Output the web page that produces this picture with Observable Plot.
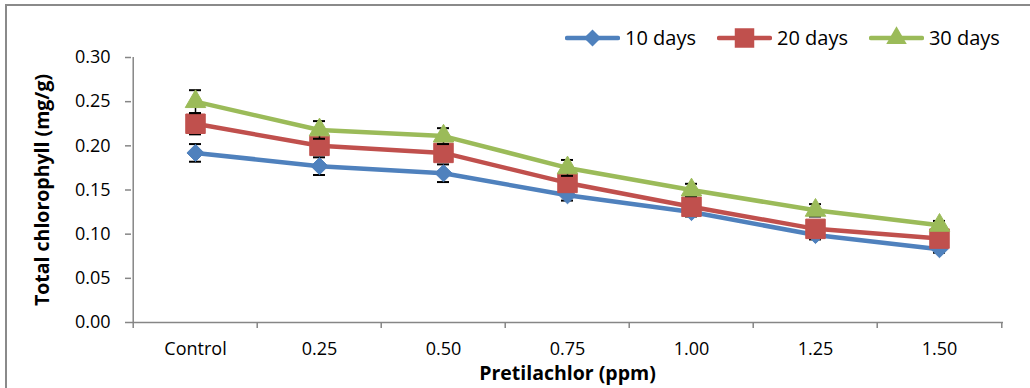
<!DOCTYPE html>
<html><head><meta charset="utf-8">
<script src="https://cdn.jsdelivr.net/npm/d3@7"></script>
<script src="https://cdn.jsdelivr.net/npm/@observablehq/plot@0.6"></script>
<style>
body{margin:0;background:#fff;}
#wrap{position:relative;width:1030px;height:388px;overflow:hidden;font-family:"Open Sans",sans-serif;background:#fff;}
#frame{position:absolute;left:5px;top:4px;width:1100px;height:500px;border:2px solid #8a8a8a;box-sizing:border-box;pointer-events:none;}
#chart{position:absolute;left:0;top:0;}
#legend{position:absolute;top:24px;left:565px;display:flex;align-items:center;font-size:20px;color:#000;line-height:28px;}
#legend .item{display:flex;align-items:center;margin-right:21px;}
#legend .item span{margin-left:5px;}
#chart svg{font-family:"Open Sans",sans-serif;overflow:visible;}
g[aria-label="y-axis tick"], g[aria-label="x-axis tick"]{stroke:#868686;stroke-width:1.5px;}
g[aria-label="y-axis tick label"] text, g[aria-label="x-axis tick label"] text{font-size:18px;fill:#000;}
g[aria-label="y-axis label"] text, g[aria-label="x-axis label"] text{font-size:19.5px;font-weight:bold;fill:#000;}
</style>
</head><body>
<div id="wrap"><div id="chart"></div><div id="legend"></div><div id="frame"></div></div>
<script>
// ---- data ----
const categories = ["Control", "0.25", "0.50", "0.75", "1.00", "1.25", "1.50"];
const seriesNames = ["10 days", "20 days", "30 days"];
const days10 = [0.192, 0.177, 0.169, 0.144, 0.125, 0.099, 0.083];
const days20 = [0.225, 0.200, 0.192, 0.158, 0.131, 0.106, 0.095];
const days30 = [0.250, 0.218, 0.211, 0.175, 0.150, 0.127, 0.110];
const err10 = [0.010, 0.010, 0.010, 0.006, 0.005, 0.005, 0.004];
const err20 = [0.012, 0.009, 0.009, 0.007, 0.006, 0.005, 0.005];
const err30 = [0.013, 0.010, 0.009, 0.009, 0.007, 0.007, 0.005];
const yTicks = [0, 0.05, 0.10, 0.15, 0.20, 0.25, 0.30];
const colors = ["#4F81BD", "#C0504D", "#9BBB59"];
const symbols = ["diamond2", "square", "triangle"];
const symbolR = [7.7, 11.0, 7.6];

const values = [days10, days20, days30];
const errors = [err10, err20, err30];

const W = 1030, H = 388, ML = 131, MR = 27, MT = 57, MB = 66;
const bw = (W - ML - MR) / categories.length;

const marks = [];
// axes lines
marks.push(Plot.ruleY([0], {stroke: "#868686", strokeWidth: 1.5}));
marks.push(Plot.ruleX([categories[0]], {dx: -bw / 2, y1: 0, y2: 0.30, stroke: "#868686", strokeWidth: 1.5}));
// category boundary ticks on x axis
marks.push(Plot.ruleX(categories, {x: d => d, dx: -bw / 2, y1: 0, y2: 0, insetBottom: -6, stroke: "#868686", strokeWidth: 1.5}));
marks.push(Plot.ruleX([categories[categories.length - 1]], {dx: bw / 2, y1: 0, y2: 0, insetBottom: -6, stroke: "#868686", strokeWidth: 1.5}));

seriesNames.forEach((s, k) => {
  const rows = categories.map((c, i) => ({cat: c, v: values[k][i], e: errors[k][i]}));
  marks.push(Plot.ruleX(rows, {x: "cat", y1: d => d.v - d.e, y2: d => d.v + d.e, stroke: "black", strokeWidth: 1.5}));
  marks.push(Plot.ruleY(rows, {y: d => d.v + d.e, x1: "cat", x2: "cat", insetLeft: -6, insetRight: -6, stroke: "black", strokeWidth: 2}));
  marks.push(Plot.ruleY(rows, {y: d => d.v - d.e, x1: "cat", x2: "cat", insetLeft: -6, insetRight: -6, stroke: "black", strokeWidth: 2}));
  marks.push(Plot.line(rows, {x: "cat", y: "v", stroke: colors[k], strokeWidth: 4.5, strokeLinejoin: "round", strokeLinecap: "round"}));
  marks.push(Plot.dot(rows, {x: "cat", y: "v", symbol: () => symbols[k], r: symbolR[k], fill: colors[k], stroke: colors[k], strokeWidth: 1}));
});

marks.push(Plot.axisY({ticks: yTicks, tickFormat: d3.format(".2f"), tickSize: 6, tickPadding: 15,
  label: "Total chlorophyll (mg/g)", labelAnchor: "center", labelOffset: 96, labelArrow: "none"}));
marks.push(Plot.axisX({tickSize: 0, tickPadding: 20, label: "Pretilachlor (ppm)", labelAnchor: "center", labelOffset: 57, labelArrow: "none"}));

const chart = Plot.plot({
  width: W, height: H,
  marginLeft: ML, marginRight: MR, marginTop: MT, marginBottom: MB,
  style: {background: "transparent", overflow: "visible"},
  x: {type: "point", domain: categories, padding: 0.5},
  y: {domain: [0, 0.30]},
  symbol: {type: "identity"},
  marks
});
document.getElementById("chart").appendChild(chart);

// legend
const legend = document.getElementById("legend");
seriesNames.forEach((s, k) => {
  const item = document.createElement("div");
  item.className = "item";
  const svg = d3.create("svg").attr("width", 55).attr("height", 24);
  svg.append("line").attr("x1", 2).attr("x2", 53).attr("y1", 12).attr("y2", 12)
    .attr("stroke", colors[k]).attr("stroke-width", 4.5).attr("stroke-linecap", "round");
  const sym = [d3.symbolDiamond2, d3.symbolSquare, d3.symbolTriangle][k];
  svg.append("path").attr("d", d3.symbol(sym, Math.PI * symbolR[k] * symbolR[k])())
    .attr("transform", "translate(27.5,12)").attr("fill", colors[k]);
  item.appendChild(svg.node());
  const t = document.createElement("span");
  t.textContent = s;
  item.appendChild(t);
  legend.appendChild(item);
});
</script>
</body></html>
